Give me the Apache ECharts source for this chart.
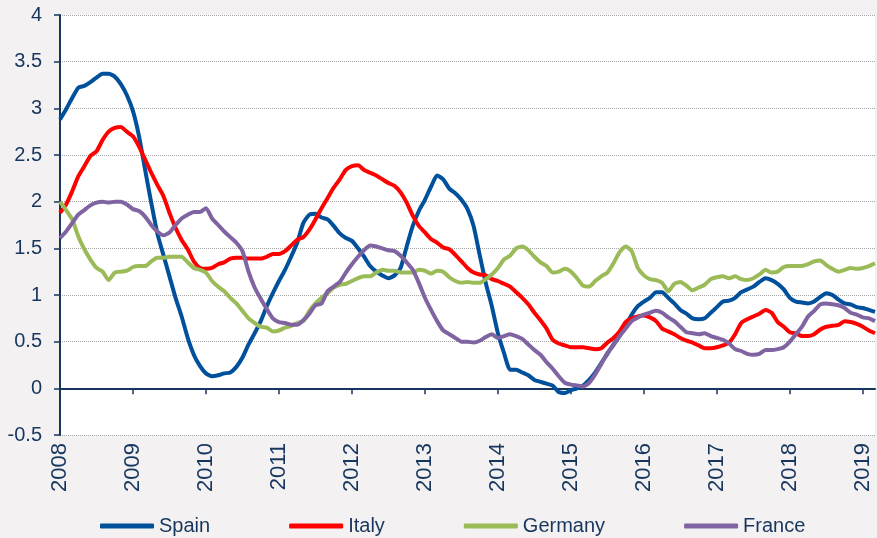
<!DOCTYPE html>
<html>
<head>
<meta charset="utf-8">
<script src="https://cdn.jsdelivr.net/npm/echarts@6/dist/echarts.min.js"></script>
<style>
  html, body { margin: 0; padding: 0; background: #f3f1f2; }
  #chart { width: 877px; height: 538px; }
</style>
</head>
<body>
<div id="chart"></div>
<script>
// monthly values, Jan 2008 .. Mar 2019
const years = ["2008", "2009", "2010", "2011", "2012", "2013", "2014", "2015", "2016", "2017", "2018", "2019"];
const lastYearMonths = 3;

const spain = [
  2.88, 2.99, 3.11, 3.22, 3.24, 3.28, 3.33, 3.37, 3.37, 3.34, 3.26, 3.14,
  2.97, 2.70, 2.34, 1.99, 1.66, 1.43, 1.20, 0.97, 0.77, 0.54, 0.36, 0.24,
  0.16, 0.13, 0.14, 0.16, 0.17, 0.23, 0.33, 0.47, 0.59, 0.72, 0.88, 1.02,
  1.15, 1.27, 1.41, 1.56, 1.77, 1.86, 1.87, 1.83, 1.81, 1.74, 1.66, 1.61,
  1.58, 1.50, 1.41, 1.31, 1.25, 1.21, 1.18, 1.21, 1.29, 1.52, 1.74, 1.90,
  2.02, 2.16, 2.28, 2.24, 2.14, 2.09, 2.02, 1.92, 1.74, 1.43, 1.13, 0.88,
  0.59, 0.38, 0.20, 0.20, 0.17, 0.14, 0.09, 0.07, 0.05, 0.03, -0.04, -0.05,
  -0.02, 0.00, 0.03, 0.09, 0.17, 0.27, 0.37, 0.47, 0.56, 0.67, 0.79, 0.88,
  0.93, 0.97, 1.03, 1.03, 0.97, 0.91, 0.84, 0.80, 0.75, 0.74, 0.75, 0.81,
  0.87, 0.93, 0.94, 0.97, 1.03, 1.06, 1.09, 1.14, 1.18, 1.16, 1.12, 1.06,
  0.97, 0.93, 0.92, 0.91, 0.93, 0.98, 1.02, 1.00, 0.95, 0.91, 0.90, 0.87,
  0.86, 0.84, 0.82
];

const italy = [
  1.88, 1.97, 2.11, 2.27, 2.38, 2.49, 2.54, 2.66, 2.75, 2.79, 2.80, 2.75,
  2.70, 2.59, 2.45, 2.31, 2.18, 2.06, 1.88, 1.72, 1.59, 1.49, 1.36, 1.29,
  1.28, 1.29, 1.33, 1.35, 1.39, 1.40, 1.40, 1.39, 1.39, 1.39, 1.41, 1.44,
  1.44, 1.47, 1.53, 1.59, 1.62, 1.70, 1.81, 1.93, 2.04, 2.15, 2.24, 2.34,
  2.38, 2.39, 2.34, 2.31, 2.28, 2.24, 2.20, 2.17, 2.10, 1.99, 1.85, 1.74,
  1.67, 1.60, 1.56, 1.51, 1.49, 1.43, 1.36, 1.29, 1.24, 1.22, 1.21, 1.17,
  1.15, 1.12, 1.09, 1.03, 0.97, 0.90, 0.81, 0.73, 0.64, 0.52, 0.48, 0.46,
  0.44, 0.44, 0.44, 0.43, 0.42, 0.43, 0.49, 0.54, 0.61, 0.71, 0.75, 0.77,
  0.78, 0.76, 0.72, 0.64, 0.61, 0.58, 0.54, 0.51, 0.49, 0.46, 0.43, 0.43,
  0.44, 0.46, 0.49, 0.58, 0.70, 0.74, 0.77, 0.80, 0.84, 0.81, 0.71, 0.66,
  0.60, 0.59, 0.56, 0.56, 0.58, 0.63, 0.66, 0.67, 0.68, 0.72, 0.71, 0.69,
  0.66, 0.62, 0.59
];

const germany = [
  2.00, 1.91, 1.81, 1.63, 1.49, 1.38, 1.29, 1.25, 1.16, 1.24, 1.25, 1.26,
  1.30, 1.31, 1.31, 1.36, 1.40, 1.40, 1.41, 1.41, 1.41, 1.35, 1.29, 1.27,
  1.24, 1.15, 1.09, 1.04, 0.97, 0.91, 0.83, 0.75, 0.70, 0.66, 0.65, 0.61,
  0.62, 0.65, 0.67, 0.70, 0.72, 0.83, 0.91, 0.97, 1.02, 1.08, 1.11, 1.12,
  1.15, 1.18, 1.20, 1.20, 1.24, 1.27, 1.26, 1.26, 1.24, 1.24, 1.24, 1.27,
  1.26, 1.23, 1.26, 1.25, 1.19, 1.15, 1.13, 1.14, 1.13, 1.13, 1.17, 1.22,
  1.29, 1.38, 1.42, 1.50, 1.52, 1.48, 1.41, 1.35, 1.31, 1.24, 1.25, 1.28,
  1.25, 1.18, 1.10, 1.09, 1.15, 1.20, 1.24, 1.34, 1.46, 1.52, 1.47, 1.29,
  1.21, 1.17, 1.16, 1.13, 1.04, 1.12, 1.14, 1.10, 1.05, 1.08, 1.11, 1.17,
  1.19, 1.20, 1.18, 1.20, 1.17, 1.16, 1.18, 1.22, 1.27, 1.24, 1.25, 1.30,
  1.31, 1.31, 1.31, 1.33, 1.36, 1.37, 1.32, 1.28, 1.25, 1.27, 1.29, 1.28,
  1.29, 1.31, 1.34
];

const france = [
  1.61, 1.68, 1.77, 1.86, 1.91, 1.96, 1.99, 2.00, 1.99, 2.00, 2.00, 1.97,
  1.92, 1.90, 1.84, 1.75, 1.68, 1.64, 1.67, 1.75, 1.82, 1.86, 1.89, 1.89,
  1.93, 1.82, 1.75, 1.68, 1.62, 1.56, 1.47, 1.25, 1.08, 0.96, 0.85, 0.75,
  0.71, 0.70, 0.68, 0.68, 0.73, 0.80, 0.89, 0.91, 1.04, 1.09, 1.14, 1.24,
  1.33, 1.41, 1.48, 1.53, 1.52, 1.50, 1.48, 1.47, 1.42, 1.35, 1.27, 1.13,
  0.97, 0.84, 0.72, 0.62, 0.58, 0.54, 0.50, 0.50, 0.49, 0.51, 0.55, 0.58,
  0.54, 0.56, 0.58, 0.56, 0.53, 0.47, 0.41, 0.36, 0.28, 0.21, 0.13, 0.06,
  0.04, 0.03, 0.02, 0.06, 0.15, 0.26, 0.38, 0.46, 0.56, 0.64, 0.72, 0.76,
  0.79, 0.81, 0.83, 0.81, 0.76, 0.72, 0.66, 0.60, 0.59, 0.58, 0.59, 0.56,
  0.54, 0.52, 0.48, 0.42, 0.40, 0.37, 0.36, 0.37, 0.41, 0.41, 0.42, 0.44,
  0.50, 0.58, 0.66, 0.77, 0.83, 0.90, 0.91, 0.90, 0.89, 0.86, 0.81, 0.79,
  0.76, 0.75, 0.72
];

// month categories "YYYY-MM"
const months = [];
years.forEach((y, k) => {
  const n = k === years.length - 1 ? lastYearMonths : 12;
  for (let m = 1; m <= n; m++) months.push(y + "-" + String(m).padStart(2, "0"));
});

const navy = "#17365d";
const font = "Liberation Sans, Arial, sans-serif";
const isJan = (index) => index % 12 === 0;

const chart = echarts.init(document.getElementById("chart"), null, { renderer: "canvas" });

const option = {
  animation: false,
  backgroundColor: "#f3f1f2",
  grid: {
    left: 60,
    right: 2,
    top: 15,
    bottom: 103,
    show: true,
    backgroundColor: "#ffffff",
    borderWidth: 0,
  },
  legend: {
    data: ["Spain", "Italy", "Germany", "France"],
    left: 95,
    top: 511,
    icon: "roundRect",
    itemWidth: 54,
    itemHeight: 5,
    itemGap: 79,
    textStyle: { color: navy, fontSize: 20, fontFamily: font },
  },
  xAxis: {
    type: "category",
    data: months,
    boundaryGap: false,
    axisLine: { onZero: true, lineStyle: { color: navy, width: 2 } },
    axisTick: { interval: isJan, length: 6, lineStyle: { color: navy, width: 1.5 } },
    axisLabel: {
      interval: isJan,
      rotate: 90,
      margin: 8,
      color: navy,
      fontSize: 22,
      fontFamily: font,
      formatter: (v) => v.slice(0, 4),
    },
    splitLine: { show: false },
  },
  yAxis: {
    type: "value",
    min: -0.5,
    max: 4,
    interval: 0.5,
    axisLine: { show: true, lineStyle: { color: navy, width: 2 } },
    axisTick: { show: true, length: 6, lineStyle: { color: navy, width: 1.5 } },
    axisLabel: { color: navy, fontSize: 20, fontFamily: font, margin: 18 },
    splitLine: { lineStyle: { color: "#a6a6a6", type: "dotted", width: 1 } },
  },
  series: [
    { name: "Spain", data: spain, color: "#00509b" },
    { name: "Italy", data: italy, color: "#ff0000" },
    { name: "Germany", data: germany, color: "#9bbb59" },
    { name: "France", data: france, color: "#8064a2" },
  ].map((s) => ({
    name: s.name,
    type: "line",
    data: s.data,
    smooth: 0.2,
    showSymbol: false,
    itemStyle: { color: s.color },
    lineStyle: { color: s.color, width: 4 },
  })),
};

chart.setOption(option);
</script>
</body>
</html>
